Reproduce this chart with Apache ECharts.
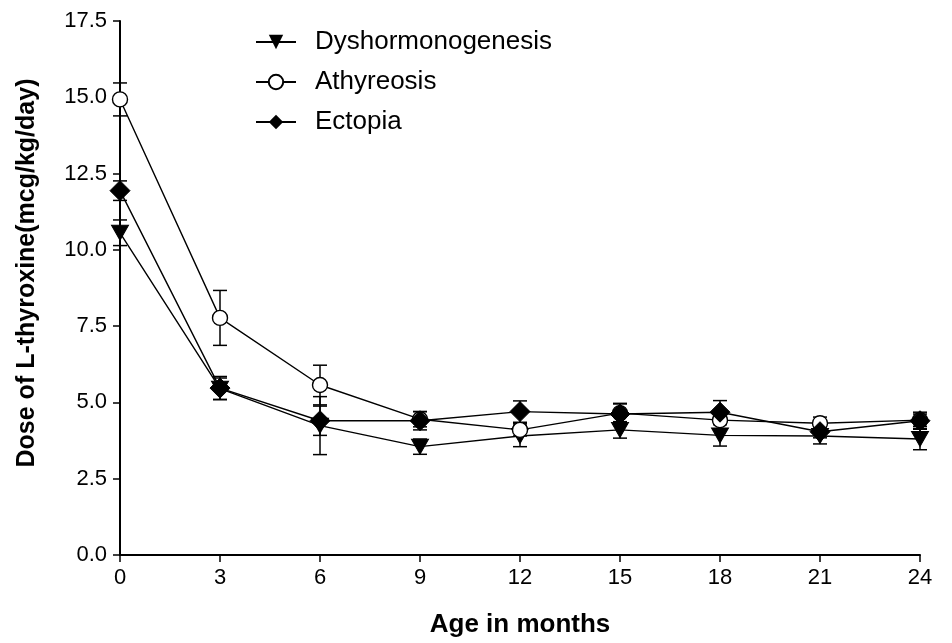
<!DOCTYPE html>
<html><head><meta charset="utf-8">
<script src="https://cdn.jsdelivr.net/npm/echarts@6/dist/echarts.min.js"></script>
<style>html,body{margin:0;padding:0;background:#fff}#c{width:952px;height:643px}</style>
</head><body><div id="c"></div>
<script>
var months = [0, 3, 6, 9, 12, 15, 18, 21, 24];
var dyshMean = [10.56, 5.45, 4.24, 3.55, 3.90, 4.10, 3.92, 3.90, 3.80];
var dyshErr  = [0.42, 0.35, 0.95, 0.25, 0.35, 0.27, 0.35, 0.26, 0.35];
var athyMean = [14.93, 7.77, 5.57, 4.45, 4.10, 4.65, 4.42, 4.32, 4.42];
var athyErr  = [0.54, 0.90, 0.65, 0.25, 0.20, 0.30, 0.30, 0.20, 0.20];
var ectoMean = [11.94, 5.47, 4.40, 4.40, 4.70, 4.62, 4.68, 4.04, 4.40];
var ectoErr  = [0.32, 0.38, 0.48, 0.30, 0.35, 0.35, 0.38, 0.20, 0.28];
var yTicks = [0, 2.5, 5, 7.5, 10, 12.5, 15, 17.5];
var xTitle = 'Age in months';
var yTitle = 'Dose of L-thyroxine(mcg/kg/day)';

function pts(m){ return months.map(function(x,i){return [x,m[i]];}); }
function errs(m,e){ return months.map(function(x,i){return [x,m[i]-e[i],m[i]+e[i]];}); }
function errSeries(m,e){
  return {
    type:'custom', data: errs(m,e), z: 3, silent:true,
    renderItem: function(params, api){
      var x = api.value(0), lo = api.value(1), hi = api.value(2);
      var p1 = api.coord([x, lo]), p2 = api.coord([x, hi]);
      var w = 7;
      var st = {stroke:'#000', lineWidth:1.5};
      return {type:'group', children:[
        {type:'line', shape:{x1:p1[0],y1:p1[1],x2:p2[0],y2:p2[1]}, style:st},
        {type:'line', shape:{x1:p1[0]-w,y1:p1[1],x2:p1[0]+w,y2:p1[1]}, style:st},
        {type:'line', shape:{x1:p2[0]-w,y1:p2[1],x2:p2[0]+w,y2:p2[1]}, style:st}
      ]};
    }
  };
}
var triDown = 'path://M-1,-0.9L1,-0.9L0,0.9Z';
var diamond = 'path://M0,-1L1,0L0,1L-1,0Z';
var font = '"Liberation Sans", Arial, sans-serif';

var chart = echarts.init(document.getElementById('c'));
chart.setOption({
  animation:false,
  backgroundColor:'#fff',
  grid:{left:120, right:32, top:21, bottom:88, containLabel:false},
  legend:{
    orient:'vertical', left:250, top:24, itemWidth:40, itemHeight:18, itemGap:14,
    textStyle:{fontFamily:font, fontSize:26, color:'#000', padding:[0,0,0,14]},
    data:['Dyshormonogenesis','Athyreosis','Ectopia']
  },
  graphic:[
    {type:'text', x:520, y:625,
      style:{text:xTitle, font:'bold 26px ' + font, fill:'#000', align:'center', verticalAlign:'middle'}},
    {type:'text', x:27, y:273, rotation:Math.PI/2,
      style:{text:yTitle, font:'bold 25px ' + font, fill:'#000', align:'center', verticalAlign:'middle'}}
  ],
  xAxis:{
    type:'value', min:0, max:24, interval:3,
    axisLine:{lineStyle:{color:'#000', width:2}},
    axisTick:{show:true, length:7, lineStyle:{color:'#000', width:1.5}},
    axisLabel:{fontFamily:font, fontSize:22, color:'#000', margin:12},
    splitLine:{show:false}
  },
  yAxis:{
    type:'value', min:0, max:17.5, interval:2.5,
    axisLine:{show:true, lineStyle:{color:'#000', width:2}},
    axisTick:{show:true, length:7, lineStyle:{color:'#000', width:1.5}},
    axisLabel:{fontFamily:font, fontSize:22, color:'#000', margin:13,
      formatter:function(v){return v.toFixed(1);}},
    splitLine:{show:false}
  },
  series:[
    {name:'Dyshormonogenesis', type:'line', data:pts(dyshMean), symbol:triDown, symbolSize:[17,15],
      lineStyle:{color:'#000', width:1.4}, itemStyle:{color:'#000', borderColor:'#000'}, z:4},
    {name:'Athyreosis', type:'line', data:pts(athyMean), symbol:'circle', symbolSize:15,
      lineStyle:{color:'#000', width:1.4}, itemStyle:{color:'#fff', borderColor:'#000', borderWidth:1.4}, z:5},
    {name:'Ectopia', type:'line', data:pts(ectoMean), symbol:diamond, symbolSize:[20,20],
      lineStyle:{color:'#000', width:1.4}, itemStyle:{color:'#000', borderColor:'#000'}, z:6},
    errSeries(dyshMean, dyshErr),
    errSeries(athyMean, athyErr),
    errSeries(ectoMean, ectoErr)
  ]
});
</script></body></html>
